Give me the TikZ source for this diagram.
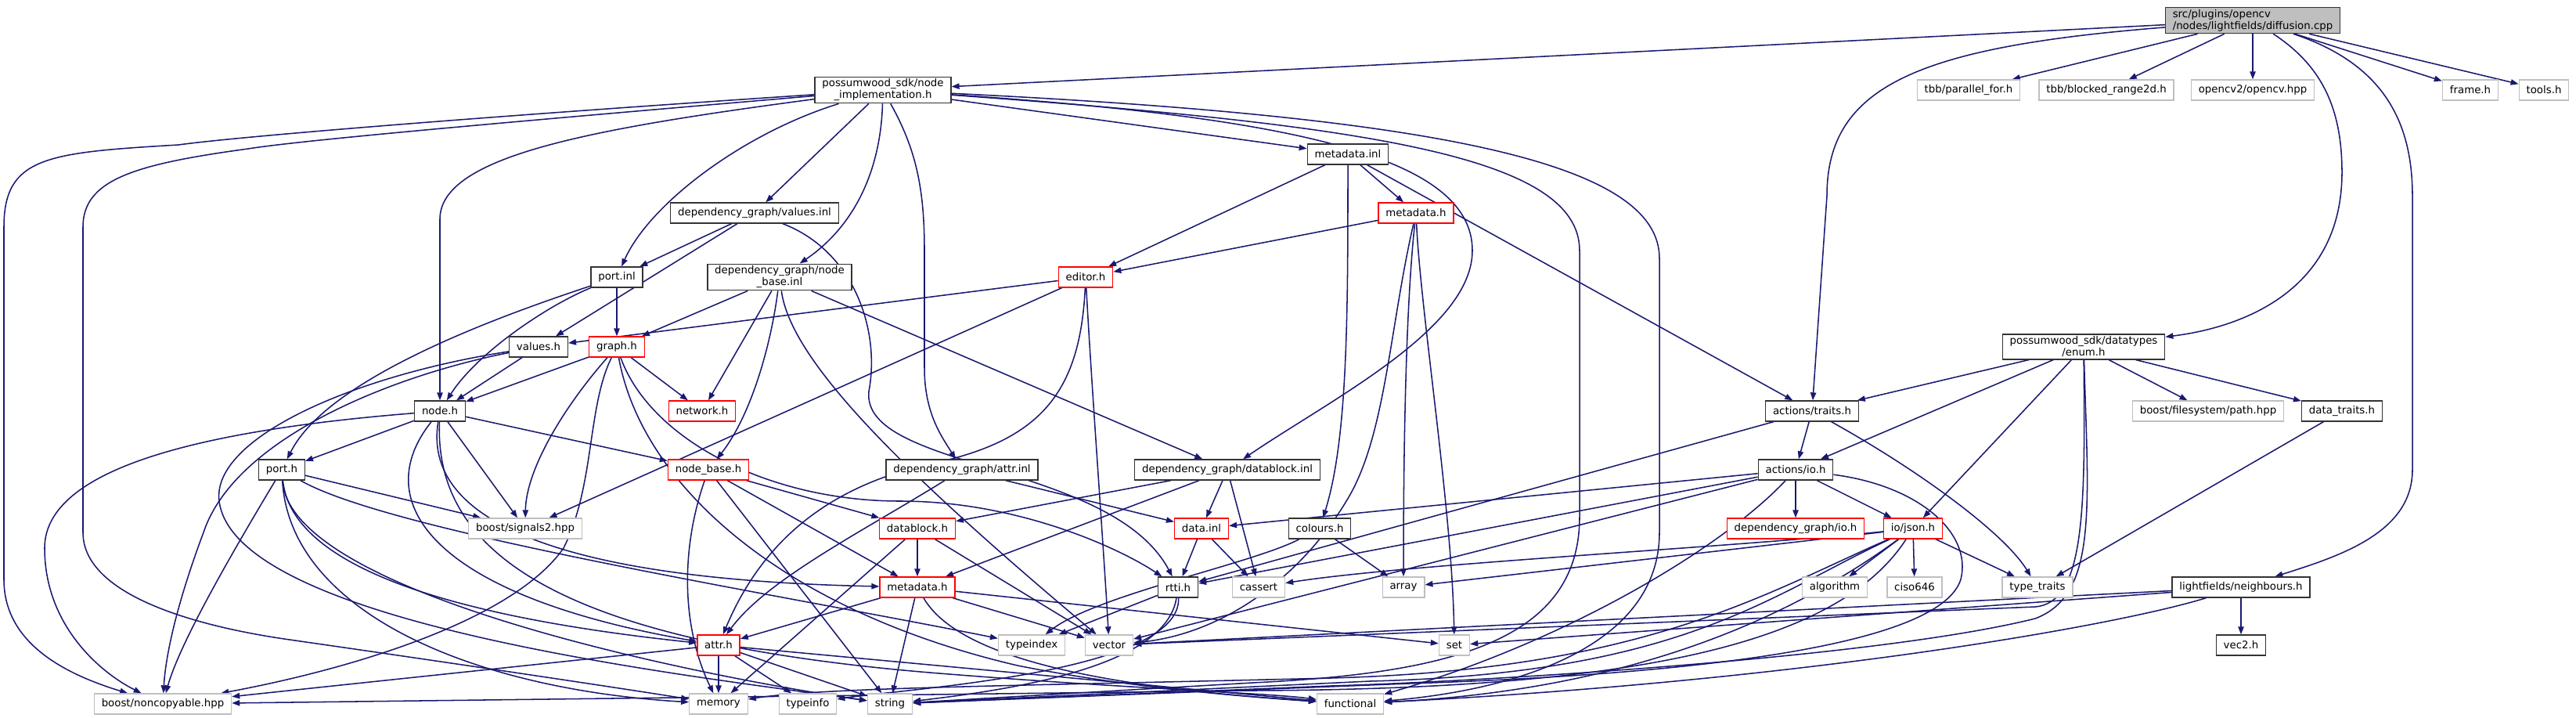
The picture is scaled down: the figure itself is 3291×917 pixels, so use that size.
\documentclass[tikz,border=0pt]{standalone}
\usepackage{fontspec}
\setmainfont{DejaVu Sans}
\usetikzlibrary{arrows.meta,positioning,backgrounds}

\definecolor{edgeblue}{RGB}{25,25,112}
\definecolor{boxgrey}{RGB}{191,191,191}

\begin{document}
\begin{tikzpicture}[
    x=0.75pt, y=-0.75pt,
    file/.style={rectangle, draw=black!80, fill=white, line width=1pt, inner xsep=7pt, inner ysep=2pt, minimum height=19.5pt, align=center, font=\fontsize{10}{11.25}\selectfont},
    sysfile/.style={file, draw=boxgrey},
    redfile/.style={file, draw=red},
    rootfile/.style={file, fill=boxgrey, align=left},
    dep/.style={draw=edgeblue, line width=1.15pt, -{Triangle[length=7.5pt,width=5.5pt]}}
]
\useasboundingbox (0,0) rectangle (3291,917);

% Root file
\node[rootfile] (root) at (2878,26) {src/plugins/opencv\\/nodes/lightfields/diffusion.cpp};

% Row 1
\node[file] (nimpl) at (1128,115) {possumwood\_sdk/node\\\_implementation.h};
\node[sysfile] (tbbpf) at (2515,115) {tbb/parallel\_for.h};
\node[sysfile] (tbbbr) at (2691,115) {tbb/blocked\_range2d.h};
\node[sysfile] (ocv) at (2878,115) {opencv2/opencv.hpp};
\node[sysfile] (frame) at (3156,115) {frame.h};
\node[sysfile] (tools) at (3250,115) {tools.h};

% Rows 2 to 4
\node[file] (mdinl) at (1722,197) {metadata.inl};
\node[file] (valinl) at (964,272) {dependency\_graph/values.inl};
\node[redfile] (mdh) at (1809,272) {metadata.h};
\node[file] (portinl) at (788,354) {port.inl};
\node[file] (nbinl) at (996,354) {dependency\_graph/node\\\_base.inl};
\node[redfile] (editor) at (1387,354) {editor.h};
\node[file] (valh) at (688,443) {values.h};
\node[redfile] (graph) at (788,443) {graph.h};
\node[file] (enumh) at (2662,443) {possumwood\_sdk/datatypes\\/enum.h};

% Row 5
\node[file] (nodeh) at (562,525) {node.h};
\node[redfile] (network) at (897,525) {network.h};
\node[file] (traits) at (2315,525) {actions/traits.h};
\node[sysfile] (fspath) at (2821,525) {boost/filesystem/path.hpp};
\node[file] (dtraits) at (2992,525) {data\_traits.h};

% Row 6
\node[file] (porth) at (360,600) {port.h};
\node[redfile] (nbh) at (905,600) {node\_base.h};
\node[file] (attrinl) at (1229,600) {dependency\_graph/attr.inl};
\node[file] (dbinl) at (1568,600) {dependency\_graph/datablock.inl};
\node[file] (ioh) at (2294,600) {actions/io.h};

% Row 7
\node[sysfile] (signals) at (671,675) {boost/signals2.hpp};
\node[redfile] (dbh) at (1172,675) {datablock.h};
\node[redfile] (datainl) at (1535,675) {data.inl};
\node[file] (colours) at (1686,675) {colours.h};
\node[redfile] (dgio) at (2294,675) {dependency\_graph/io.h};
\node[redfile] (json) at (2444,675) {io/json.h};

% Row 8
\node[redfile] (mdh2) at (1172,750) {metadata.h};
\node[file] (rtti) at (1505,750) {rtti.h};
\node[sysfile] (cassert) at (1608,750) {cassert};
\node[sysfile] (array) at (1793,750) {array};
\node[sysfile] (algo) at (2344,750) {algorithm};
\node[sysfile] (ciso) at (2446,750) {ciso646};
\node[sysfile] (ttraits) at (2603,750) {type\_traits};
\node[file] (neigh) at (2863,750) {lightfields/neighbours.h};

% Row 9
\node[redfile] (attrh) at (918,824) {attr.h};
\node[sysfile] (typeindex) at (1318,824) {typeindex};
\node[sysfile] (vector) at (1417,824) {vector};
\node[sysfile] (set) at (1858,824) {set};
\node[file] (vec2) at (2863,824) {vec2.h};

% Row 10
\node[sysfile] (noncopy) at (208,899) {boost/noncopyable.hpp};
\node[sysfile] (memory) at (918,899) {memory};
\node[sysfile] (typeinfo) at (1032,899) {typeinfo};
\node[sysfile] (string) at (1137,899) {string};
\node[sysfile] (functional) at (1725,899) {functional};

\begin{scope}[on background layer]
% diffusion.cpp
\draw[dep] (root) -- (nimpl);
\draw[dep] (root) .. controls (2450,60) and (2334,110) .. (2334,250) -- (traits);
\draw[dep] (root) -- (tbbpf);
\draw[dep] (root) -- (tbbbr);
\draw[dep] (root) -- (ocv);
\draw[dep] (root) .. controls (2960,80) and (2992,130) .. (2992,220) .. controls (2992,380) and (2850,420) .. (enumh);
\draw[dep] (root) .. controls (3040,80) and (3082,150) .. (3082,250) -- (3082,600) .. controls (3082,680) and (2990,710) .. (neigh);
\draw[dep] (root) -- (frame);
\draw[dep] (root) -- (tools);

% node_implementation.h
\draw[dep] (nimpl) .. controls (600,150) and (300,175) .. (228,185) .. controls (60,195) and (5,200) .. (5,290) -- (5,740) .. controls (5,820) and (80,860) .. (noncopy);
\draw[dep] (nimpl) .. controls (600,160) and (380,180) .. (317,190) .. controls (170,210) and (106,230) .. (106,290) -- (106,680) .. controls (106,760) and (250,800) .. (370,817) .. controls (600,850) and (800,880) .. (memory);
\draw[dep] (nimpl) .. controls (750,165) and (562,200) .. (562,280) -- (nodeh);
\draw[dep] (nimpl) .. controls (950,170) and (830,260) .. (portinl);
\draw[dep] (nimpl) -- (valinl);
\draw[dep] (nimpl) .. controls (1125,220) and (1090,290) .. (nbinl);
\draw[dep] (nimpl) .. controls (1170,190) and (1181,240) .. (1181,320) -- (1181,470) .. controls (1181,530) and (1205,560) .. (attrinl);
\draw[dep] (nimpl) -- (mdinl);
\draw[dep] (nimpl) .. controls (1650,150) and (1881,200) .. (1881,320) .. controls (1881,420) and (1700,510) .. (dbinl);
\draw[dep] (nimpl) .. controls (1750,160) and (2018,200) .. (2018,320) -- (2018,660) .. controls (2018,820) and (1850,860) .. (1600,872) -- (string);
\draw[dep] (nimpl) .. controls (1850,150) and (2120,210) .. (2120,330) -- (2120,680) .. controls (2120,820) and (1950,880) .. (functional);

% values.inl, port.inl, node_base.inl
\draw[dep] (valinl) -- (portinl);
\draw[dep] (valinl) -- (valh);
\draw[dep] (valinl) .. controls (1090,320) and (1125,420) .. (1110,500) .. controls (1100,600) and (1420,590) .. (rtti);
\draw[dep] (portinl) .. controls (650,400) and (420,480) .. (porth);
\draw[dep] (portinl) .. controls (700,390) and (610,450) .. (nodeh);
\draw[dep] (portinl) -- (graph);
\draw[dep] (nbinl) -- (graph);
\draw[dep] (nbinl) -- (network);
\draw[dep] (nbinl) .. controls (985,440) and (960,530) .. (nbh);
\draw[dep] (nbinl) -- (dbinl);
\draw[dep] (nbinl) .. controls (1010,460) and (1150,600) .. (vector);

% metadata
\draw[dep] (mdinl) -- (editor);
\draw[dep] (mdinl) -- (mdh);
\draw[dep] (mdinl) .. controls (1722,400) and (1722,560) .. (colours);
\draw[dep] (mdinl) -- (traits);
\draw[dep] (mdh) -- (editor);
\draw[dep] (mdh) .. controls (1795,400) and (1793,600) .. (array);
\draw[dep] (mdh) .. controls (1815,400) and (1855,650) .. (set);
\draw[dep] (mdh) .. controls (1775,420) and (1770,560) .. (1720,640) .. controls (1660,740) and (1560,810) .. (vector);

% editor.h
\draw[dep] (editor) -- (valh);
\draw[dep] (editor) -- (signals);
\draw[dep] (editor) .. controls (1380,500) and (1330,560) .. (1200,590) .. controls (1050,620) and (970,700) .. (attrh);
\draw[dep] (editor) .. controls (1395,500) and (1410,700) .. (vector);

% values.h, graph.h
\draw[dep] (valh) -- (nodeh);
\draw[dep] (valh) .. controls (500,480) and (300,560) .. (260,680) .. controls (230,760) and (212,830) .. (noncopy);
\draw[dep] (valh) .. controls (450,480) and (270,560) .. (280,640) .. controls (300,800) and (900,865) .. (string);
\draw[dep] (graph) -- (nodeh);
\draw[dep] (graph) .. controls (720,520) and (672,600) .. (signals);
\draw[dep] (graph) -- (network);
\draw[dep] (graph) .. controls (750,520) and (760,620) .. (720,700) .. controls (650,800) and (420,860) .. (noncopy);
\draw[dep] (graph) .. controls (830,560) and (980,640) .. (1150,640) .. controls (1300,640) and (1430,700) .. (rtti);
\draw[dep] (graph) .. controls (820,620) and (1000,780) .. (1300,850) .. controls (1450,880) and (1600,890) .. (functional);

% node.h
\draw[dep] (nodeh) -- (porth);
\draw[dep] (nodeh) -- (nbh);
\draw[dep] (nodeh) -- (signals);
\draw[dep] (nodeh) .. controls (250,550) and (57,600) .. (57,700) .. controls (57,800) and (130,860) .. (noncopy);
\draw[dep] (nodeh) .. controls (470,640) and (550,760) .. (attrh);
\draw[dep] (nodeh) .. controls (540,660) and (700,740) .. (mdh2);
\draw[dep] (nodeh) .. controls (555,700) and (700,820) .. (1200,860) .. controls (1450,880) and (1620,885) .. (functional);

% port.h
\draw[dep] (porth) .. controls (300,700) and (230,820) .. (noncopy);
\draw[dep] (porth) -- (signals);
\draw[dep] (porth) .. controls (370,700) and (500,780) .. (attrh);
\draw[dep] (porth) .. controls (500,680) and (1000,760) .. (typeindex);
\draw[dep] (porth) .. controls (370,760) and (900,865) .. (string);
\draw[dep] (porth) .. controls (370,780) and (600,880) .. (memory);

% node_base.h, attr.inl, datablock.inl, datablock.h, data.inl
\draw[dep] (nbh) -- (dbh);
\draw[dep] (nbh) -- (mdh2);
\draw[dep] (nbh) .. controls (870,700) and (870,800) .. (memory);
\draw[dep] (nbh) -- (string);
\draw[dep] (attrinl) .. controls (1100,680) and (980,740) .. (attrh);
\draw[dep] (attrinl) -- (datainl);
\draw[dep] (dbinl) -- (dbh);
\draw[dep] (dbinl) -- (mdh2);
\draw[dep] (dbinl) -- (datainl);
\draw[dep] (dbinl) -- (cassert);
\draw[dep] (dbh) -- (mdh2);
\draw[dep] (dbh) -- (memory);
\draw[dep] (dbh) -- (vector);
\draw[dep] (datainl) -- (rtti);
\draw[dep] (datainl) -- (cassert);

% metadata.h, rtti.h, attr.h
\draw[dep] (mdh2) -- (attrh);
\draw[dep] (mdh2) -- (string);
\draw[dep] (mdh2) .. controls (1230,850) and (1450,880) .. (functional);
\draw[dep] (mdh2) -- (vector);
\draw[dep] (mdh2) -- (set);
\draw[dep] (rtti) -- (typeindex);
\draw[dep] (rtti) .. controls (1490,850) and (1300,880) .. (string);
\draw[dep] (rtti) .. controls (1510,860) and (1150,880) .. (typeinfo);
\draw[dep] (attrh) -- (memory);
\draw[dep] (attrh) -- (typeinfo);
\draw[dep] (attrh) -- (string);
\draw[dep] (attrh) -- (noncopy);
\draw[dep] (attrh) -- (functional);
\draw[dep] (colours) -- (array);
\draw[dep] (colours) .. controls (1600,720) and (1400,760) .. (typeindex);

% actions
\draw[dep] (traits) -- (rtti);
\draw[dep] (traits) -- (ioh);
\draw[dep] (traits) .. controls (2450,600) and (2560,680) .. (ttraits);
\draw[dep] (ioh) -- (datainl);
\draw[dep] (ioh) -- (rtti);
\draw[dep] (ioh) -- (dgio);
\draw[dep] (ioh) -- (json);
\draw[dep] (ioh) -- (vector);
\draw[dep] (ioh) .. controls (2200,700) and (2000,820) .. (functional);
\draw[dep] (ioh) .. controls (2450,620) and (2520,680) .. (2505,740) .. controls (2480,820) and (2200,860) .. (1800,873) -- (string);

% enum.h
\draw[dep] (enumh) -- (traits);
\draw[dep] (enumh) -- (ioh);
\draw[dep] (enumh) -- (json);
\draw[dep] (enumh) -- (fspath);
\draw[dep] (enumh) -- (dtraits);
\draw[dep] (enumh) .. controls (2668,650) and (2680,760) .. (2600,790) .. controls (2400,840) and (1900,870) .. (1700,876) -- (string);
\draw[dep] (enumh) .. controls (2664,650) and (2664,770) .. (2600,775) -- (vector);
\draw[dep] (dtraits) -- (ttraits);

% io/json.h
\draw[dep] (json) -- (array);
\draw[dep] (json) .. controls (2200,700) and (1800,720) .. (cassert);
\draw[dep] (json) .. controls (2250,760) and (2100,855) .. (1700,866) .. controls (1300,876) and (1050,878) .. (memory);
\draw[dep] (json) .. controls (2260,760) and (2150,860) .. (1750,870) -- (string);
\draw[dep] (json) .. controls (2300,780) and (2100,880) .. (functional);
\draw[dep] (json) .. controls (2350,820) and (2100,880) .. (1600,882) -- (noncopy);
\draw[dep] (json) -- (algo);
\draw[dep] (json) -- (ciso);
\draw[dep] (json) -- (ttraits);

% neighbours.h
\draw[dep] (neigh) -- (vec2);
\draw[dep] (neigh) -- (set);
\draw[dep] (neigh) -- (vector);
\draw[dep] (neigh) .. controls (2700,800) and (2300,870) .. (functional);
\end{scope}

\end{tikzpicture}
\end{document}
